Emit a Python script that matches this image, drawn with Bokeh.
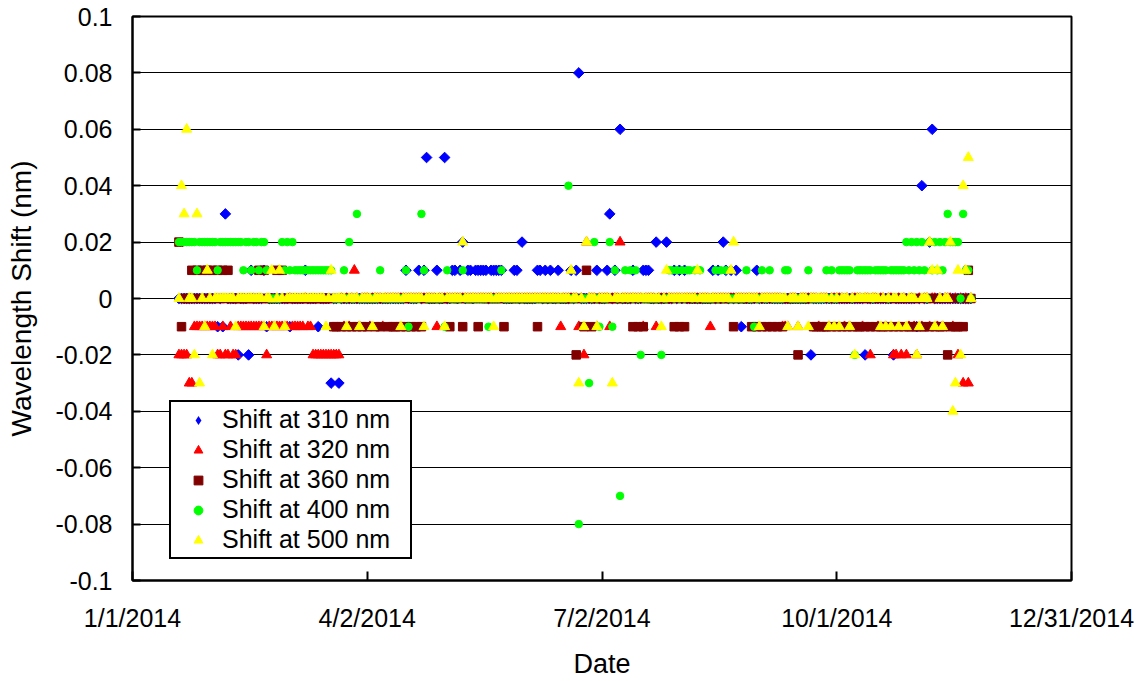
import numpy as np
import pandas as pd
from bokeh.plotting import figure
from bokeh.models import Range1d, FixedTicker, CustomJSTickFormatter, Legend, LegendItem
from bokeh.embed import file_html
from bokeh.resources import INLINE

# ---------------- data (daily readings, first day below) ----------------
first_day = "2014-01-19"

x_tick_dates = ["2014-01-01", "2014-04-02", "2014-07-02", "2014-10-01", "2014-12-31"]
x_tick_labels = ["1/1/2014", "4/2/2014", "7/2/2014", "10/1/2014", "12/31/2014"]
y_tick_values = [-0.1, -0.08, -0.06, -0.04, -0.02, 0, 0.02, 0.04, 0.06, 0.08, 0.1]
y_tick_labels = ["-0.1", "-0.08", "-0.06", "-0.04", "-0.02", "0", "0.02", "0.04", "0.06", "0.08", "0.1"]

series_labels = ["Shift at 310 nm", "Shift at 320 nm", "Shift at 360 nm", "Shift at 400 nm", "Shift at 500 nm"]

shift_310 = [
    0, 0, 0, 0, 0, 0, 0, 0, 0, 0,
    0, 0, 0, 0, 0, -0.01, 0, -0.01, 0.03, 0,
    0, 0, 0, -0.02, 0, 0, 0, -0.02, 0.01, 0,
    0, 0, 0, 0.01, -0.01, 0, 0, 0, 0, 0,
    0, 0, 0, -0.01, 0, 0, 0, 0, 0, 0.01,
    0, 0, 0, 0, -0.01, 0, 0, 0, 0, -0.03,
    0, 0, -0.03, 0, 0, 0, 0, 0, 0, 0,
    0, 0, 0, 0, 0, 0, 0, 0, 0, 0,
    0, 0, 0, 0, 0, 0, 0, 0, 0.01, 0,
    0, 0, 0, 0.01, 0, 0.01, 0.05, 0, 0, 0,
    0.01, 0, 0, 0.05, 0, 0, 0.01, 0.01, 0, 0.01,
    0.02, 0, 0.01, 0.01, 0, 0.01, 0.01, 0.01, 0.01, 0.01,
    0, 0.01, 0.01, 0.01, 0.01, 0.01, 0, 0, 0, 0,
    0.01, 0.01, 0, 0.02, 0, 0, 0, 0, 0, 0.01,
    0.01, 0, 0.01, 0, 0.01, 0, 0, 0.01, 0, 0,
    0, 0, 0.01, 0, 0.01, 0.08, 0, 0, 0, 0,
    0, 0, 0.01, 0, 0, 0, 0.01, 0.03, 0, 0.01,
    0, 0.06, 0, 0, 0, 0, 0.01, 0, 0, 0,
    0.01, 0.01, 0.01, 0, 0, 0.02, 0, 0, 0, 0.02,
    0, 0, 0.01, 0, 0.01, 0, 0.01, 0, 0, 0,
    0, 0, 0, 0, 0, 0, 0, 0.01, 0, 0.01,
    0, 0.02, 0.01, 0, 0.01, 0, 0.01, 0, -0.01, 0,
    0, 0, 0, 0, 0.01, 0, 0, 0, 0, 0,
    0, 0, 0, 0, 0, 0, 0, 0, 0, 0,
    0, 0, 0, 0, 0, -0.02, 0, 0, 0, 0,
    0, 0, 0, 0, 0, 0, 0, 0, 0, 0,
    0, 0, 0, 0, 0, 0, -0.02, 0, 0, 0,
    0, 0, 0, 0, 0, 0, 0, -0.02, 0, 0,
    0, 0, 0, 0, 0, 0, -0.01, 0, 0.04, 0,
    0, 0.02, 0.06, 0, 0, 0, 0, 0, 0, 0,
    0, 0, 0, 0, 0, 0, 0, 0,
]

shift_320 = [
    -0.02, -0.02, -0.02, -0.02, -0.03, -0.03, -0.01, -0.01, -0.01, -0.01,
    -0.01, -0.01, -0.01, -0.01, -0.01, -0.02, -0.02, -0.01, -0.02, -0.02,
    -0.01, -0.02, -0.02, -0.01, -0.01, -0.01, -0.01, -0.01, -0.01, -0.01,
    -0.01, -0.01, -0.01, -0.01, -0.02, -0.01, -0.01, -0.01, -0.01, -0.01,
    -0.01, -0.01, -0.01, 0, -0.01, -0.01, -0.01, -0.01, -0.01, 0,
    -0.01, -0.01, -0.02, -0.02, -0.02, -0.02, -0.02, -0.02, -0.02, -0.02,
    -0.02, -0.02, -0.02, 0, -0.01, 0, -0.01, 0, 0.01, 0,
    -0.01, 0, 0, 0, -0.01, 0, 0, 0, 0, -0.01,
    0, 0, 0, 0, 0, 0, 0, 0, 0, 0,
    0, 0, 0, 0, 0, 0, 0, 0, 0, 0,
    -0.01, 0, 0, 0, 0, 0, 0, 0, 0, 0,
    0, 0, 0, 0, 0, 0, 0, 0, 0, 0,
    0, 0, 0, 0, 0, 0, 0, 0, 0, 0,
    0, 0, 0, 0, 0, 0, 0, 0, 0, 0,
    0, 0, 0, 0, 0, 0, 0, 0, -0.01, 0,
    0, 0, 0, 0, 0, -0.01, 0, -0.02, 0.02, 0,
    0, 0, -0.01, 0, 0, 0, 0, -0.01, 0, 0,
    0, 0.02, 0, 0, 0, 0, 0, 0, 0, 0,
    -0.01, 0, 0, 0, 0, -0.01, 0, 0, 0, 0,
    0, 0, 0, 0, 0, 0, 0, 0, 0, 0,
    0, 0, 0, 0, 0, 0, -0.01, 0, 0, 0,
    0, 0, 0, 0, 0, 0, 0, 0, 0, 0,
    0, 0, 0, 0, 0, 0, 0, 0, 0, 0,
    0, 0, 0, 0, -0.01, -0.01, -0.01, 0, 0, 0,
    -0.01, 0, 0, 0, 0, 0, 0, 0, -0.01, 0,
    0, 0, -0.01, 0, 0, 0, 0, 0, -0.01, 0,
    -0.01, 0, 0, 0, 0, -0.01, 0, 0, -0.02, 0,
    0, -0.01, 0, 0, -0.01, 0, 0, -0.02, -0.02, 0,
    -0.02, 0, -0.02, -0.01, 0, -0.01, -0.02, 0, -0.01, 0,
    0, -0.01, 0, 0, -0.01, 0, -0.01, 0, 0, 0,
    -0.01, 0, -0.02, 0, -0.03, 0, -0.03, 0,
]

shift_360 = [
    0.02, -0.01, 0, 0, 0, 0.01, 0, 0.01, 0, 0.01,
    0, 0.01, 0, 0.01, 0, 0.01, 0, 0.01, 0, 0.01,
    0, 0, 0, 0, 0, 0, 0, 0, 0, 0,
    0, 0.01, 0, 0.01, 0, 0, 0, 0, 0.01, 0,
    0.01, 0, 0, 0, 0, 0, 0, 0, 0, 0,
    0, 0, 0, 0, 0, 0, 0, 0, 0, 0,
    -0.01, -0.01, 0, -0.01, 0, -0.01, 0, -0.01, 0, -0.01,
    0, -0.01, 0, -0.01, 0, 0, -0.01, 0, -0.01, 0,
    0, -0.01, 0, -0.01, -0.01, 0, -0.01, 0, -0.01, 0,
    -0.01, 0, -0.01, 0, -0.01, 0, 0, 0, 0, 0,
    0, 0, 0, 0, 0, -0.01, 0, 0, 0, 0,
    -0.01, 0, 0, 0, 0, 0, -0.01, 0, 0, 0,
    0, 0, 0, 0, 0, 0, -0.01, 0, 0, 0,
    0, 0, 0, 0, 0, 0, 0, 0, 0, -0.01,
    0, 0, 0, 0, 0, 0, 0, 0, 0, 0,
    0, 0, 0, 0, -0.02, 0, 0, -0.01, 0.01, 0,
    -0.01, 0, 0, 0, 0, 0, 0, 0, 0, 0,
    0, 0, 0, 0, 0, 0, -0.01, 0, -0.01, 0,
    -0.01, 0, 0, 0, 0, 0, 0, 0, 0, 0,
    0, 0, -0.01, 0, -0.01, 0, -0.01, 0, 0, 0,
    0, 0, 0, 0, 0, 0, 0, 0, 0, 0,
    0, 0, 0, 0, 0, -0.01, 0, 0, 0, 0,
    0, 0, -0.01, 0, -0.01, 0, -0.01, 0, -0.01, 0,
    -0.01, 0, -0.01, 0, -0.01, 0, 0, 0, 0, 0,
    -0.02, 0, 0, 0, 0, 0, -0.01, -0.01, 0, -0.01,
    -0.01, -0.01, 0, -0.01, 0, -0.01, 0, -0.01, 0, -0.01,
    0, -0.01, 0, -0.01, -0.01, 0, -0.01, 0, -0.01, 0,
    -0.01, 0, -0.01, -0.01, 0, -0.01, 0, -0.01, 0, -0.01,
    0, -0.01, 0, -0.01, -0.01, 0, -0.01, 0, -0.01, -0.01,
    0, -0.01, 0, -0.01, 0, -0.01, -0.01, 0, -0.02, -0.01,
    0, -0.01, -0.01, 0, -0.01, 0, 0.01, 0,
]

shift_400 = [
    0.02, 0.02, 0.02, 0.02, 0.02, 0.02, 0.02, 0.01, 0.02, 0.02,
    0.02, 0.02, 0.02, 0.02, 0.02, 0.01, 0.02, 0.02, 0.02, 0.02,
    0.02, 0.02, 0.02, 0.02, 0.02, 0.01, 0.02, 0.02, 0.01, 0.02,
    0.02, 0.01, 0.02, 0.02, 0.01, 0, 0, 0, 0, 0,
    0.02, 0.01, 0.02, 0.01, 0.02, 0.01, 0.01, 0.01, 0.01, 0.01,
    0.01, 0.01, 0.01, 0.01, 0.01, 0.01, 0.01, 0.01, 0.01, 0.01,
    0, 0, 0, 0, 0.01, 0, 0.02, 0, 0, 0.03,
    0, 0, 0, 0, 0, 0, 0, 0, 0.01, 0,
    0, 0, 0, 0, 0, 0, 0, 0, 0.01, -0.01,
    0, 0, 0, 0, 0.03, 0.01, 0, 0, 0, 0,
    0, 0, 0, -0.01, 0.01, 0, 0, 0, 0, 0,
    0.01, 0, 0, 0, 0, 0, 0, 0, 0, 0,
    -0.01, 0, 0, 0, 0, 0.01, 0, 0, 0, 0,
    0, 0, 0, 0, 0, 0, 0, 0, 0, 0,
    0, 0, 0, 0, 0, 0, 0, 0, 0, 0,
    0, 0.04, 0, 0, 0, -0.08, 0, 0, 0, -0.03,
    0, 0.02, 0, -0.01, 0, 0, 0, 0.02, -0.01, 0.01,
    0, -0.07, 0, 0.01, 0, 0.01, 0, 0.01, 0, -0.02,
    0, 0, 0, 0, 0, 0, 0, -0.02, 0, 0,
    0.01, 0.01, 0, 0.01, 0, 0.01, 0, 0.01, 0.01, 0,
    0.01, 0, 0.01, 0, 0, 0, 0, 0, 0.01, 0,
    0.01, 0, 0.01, 0, 0, 0, 0, 0, 0, 0,
    0.01, 0, 0, -0.01, 0, 0, 0.01, 0, 0, 0.01,
    0, 0, 0, 0, 0, 0.01, 0.01, 0, 0, 0,
    0, 0, 0, 0, 0.01, 0, 0, 0, 0, 0,
    0, 0.01, 0, 0.01, 0, 0, 0.01, 0.01, 0.01, 0.01,
    0.01, 0, -0.02, 0.01, 0.01, 0.01, 0.01, 0.01, 0.01, 0,
    0.01, 0.01, 0.01, 0.01, 0.01, 0, 0.01, 0.01, 0.01, 0.01,
    0.01, 0.01, 0.02, 0.01, 0.02, 0.01, 0.02, 0.01, 0.02, 0.01,
    0, 0.02, 0.01, 0.02, 0.01, 0.02, 0.01, 0.02, 0.03, 0.02,
    0.02, 0.02, 0.02, 0, 0.03, 0.01, 0.01, 0,
]

shift_500 = [
    0, 0.04, 0.03, 0.06, 0, 0, -0.02, 0.03, -0.03, 0,
    -0.01, 0.01, 0, -0.02, 0, 0, 0, 0, 0, 0,
    0, 0, -0.01, 0, 0, 0, 0, 0, 0, 0,
    0, 0, 0, -0.01, 0, 0, 0.01, -0.01, 0, 0.01,
    0, -0.01, 0, 0, 0, 0, 0, 0, 0, 0,
    0, 0, 0, 0, 0, 0, 0, -0.01, 0, 0.01,
    0, 0, 0, 0, 0, -0.01, 0, 0, 0, 0,
    -0.01, 0, 0, 0, 0, -0.01, 0, 0, 0, 0,
    0, 0, 0, 0, 0, 0, -0.01, 0, 0, 0,
    0, 0, 0, 0, 0, -0.01, 0, 0, 0, 0,
    0, 0, 0, -0.01, 0, 0, 0, 0, 0, 0,
    0.02, 0, 0, 0, 0, 0, 0, 0, 0, 0,
    0, 0, -0.01, 0, 0, 0, 0, 0, 0, 0,
    0, 0, 0, 0, 0, 0, 0, 0, 0, 0,
    0, 0, 0, 0, 0, 0, 0, 0, 0, 0,
    0, 0, 0.01, 0, 0, -0.03, 0, -0.01, 0.02, 0,
    0, 0, -0.01, 0, 0, 0, 0, 0, -0.03, 0,
    0, 0, 0, 0, 0, 0, 0, 0, 0, 0,
    0, 0, 0, 0, 0, 0, 0, -0.01, 0, 0.01,
    0, 0, 0, 0, 0, 0, 0, 0, 0, 0,
    0, 0.01, 0, 0, 0, 0, 0, 0, 0, 0,
    0, 0, 0, 0, 0.01, 0.02, 0, 0, 0, 0,
    0, 0, 0, 0, 0, -0.01, 0, 0, 0, 0,
    0, 0, 0, 0, 0, 0, -0.01, 0, 0, 0,
    -0.01, 0, 0, 0, -0.01, 0, 0, 0, 0, 0,
    0, 0, -0.01, 0, -0.01, 0, -0.01, 0, 0, 0,
    -0.01, 0, -0.02, 0, 0, 0, 0, 0, 0, 0,
    0, 0, -0.01, 0, -0.01, 0, -0.01, 0, 0, -0.01,
    0, 0, -0.01, 0, 0, 0, -0.02, -0.01, 0, 0,
    0, 0.02, 0.01, -0.01, 0.01, 0, -0.01, 0, 0, 0.02,
    -0.04, -0.03, 0.01, -0.02, 0.04, 0.01, 0.05, 0,
]

# ---------------- helpers ----------------
def to_ms(dates):
    return (pd.DatetimeIndex(dates).asi8 // 10**6).astype(float)

def day_axis(values):
    return to_ms(pd.date_range(first_day, periods=len(values), freq="D"))

x_ticks = list(to_ms(x_tick_dates))

FONT = "Liberation Sans"

p = figure(width=1138, height=681, output_backend="svg", toolbar_location=None,
           x_range=Range1d(x_ticks[0], x_ticks[-1]), y_range=Range1d(-0.1, 0.1),
           min_border_left=132, min_border_right=67, min_border_top=16, min_border_bottom=101)

p.background_fill_color = "white"
p.border_fill_color = "white"
p.outline_line_color = "black"
p.outline_line_width = 2
p.outline_line_alpha = 1

styles = [
    dict(marker="square", angle=np.pi / 4, size=7.5, color="#0000FF"),
    dict(marker="triangle", size=10, color="#FF0000"),
    dict(marker="square", size=8.5, color="#800000"),
    dict(marker="circle", size=7.5, color="#00FF00"),
    dict(marker="triangle", size=10, color="#FFFF00"),
]
all_series = [shift_310, shift_320, shift_360, shift_400, shift_500]

renderers = []
for vals, st in zip(all_series, styles):
    r = p.scatter(x=day_axis(vals), y=vals, **st)
    renderers.append(r)

# legend swatch for the 310 nm series: a diamond (legend glyphs ignore the angle);
# drawn at size 0 in the plot so only the legend shows it
leg_diamond = p.scatter(x=day_axis(shift_310), y=shift_310, marker="diamond", size=0,
                        fill_color="#0000FF", line_color="#0000FF", line_alpha=0)
legend_renderers = [leg_diamond] + renderers[1:]

legend = Legend(items=[LegendItem(label=lab, renderers=[r]) for lab, r in zip(series_labels, legend_renderers)],
                location=(37, 21))
legend.border_line_color = "black"
legend.border_line_width = 2
legend.border_line_alpha = 1
legend.background_fill_color = "white"
legend.background_fill_alpha = 1
legend.padding = 3
legend.margin = 0
legend.spacing = 1
legend.glyph_width = 48
legend.glyph_height = 22
legend.label_standoff = 0
legend.label_width = 185
legend.label_height = 29
legend.label_text_font = FONT
legend.label_text_font_size = "25px"
legend.label_text_color = "black"
p.add_layout(legend)

# axes
fmt_code = """
for (let i = 0; i < vals.length; i++) {
  if (Math.abs(vals[i] - tick) <= 1e-6 * Math.max(1, Math.abs(tick))) { return labs[i]; }
}
return "";
"""
xa = p.xaxis[0]
xa.ticker = FixedTicker(ticks=x_ticks)
xa.formatter = CustomJSTickFormatter(args=dict(vals=x_ticks, labs=x_tick_labels), code=fmt_code)
xa.axis_label = "Date"

ya = p.yaxis[0]
ya.ticker = FixedTicker(ticks=y_tick_values)
ya.formatter = CustomJSTickFormatter(args=dict(vals=y_tick_values, labs=y_tick_labels), code=fmt_code)
ya.axis_label = "Wavelength Shift (nm)"

for ax in (xa, ya):
    ax.axis_line_color = "black"
    ax.axis_line_width = 2
    ax.major_tick_line_color = "black"
    ax.major_tick_line_width = 2
    ax.major_tick_out = 0
    ax.minor_tick_in = 0
    ax.minor_tick_out = 0
    ax.major_label_text_font = FONT
    ax.major_label_text_font_size = "25px"
    ax.major_label_text_color = "black"
    ax.axis_label_text_font = FONT
    ax.axis_label_text_font_size = "28px"
    ax.axis_label_text_font_style = "normal"
    ax.axis_label_text_color = "black"

xa.axis_label_text_font_size = "27px"
xa.major_tick_in = 9
xa.major_label_standoff = 23
xa.axis_label_standoff = 14
ya.major_tick_in = 8
ya.major_label_standoff = 20
ya.axis_label_standoff = 16

p.xgrid.visible = False
p.ygrid.grid_line_color = "black"
p.ygrid.grid_line_width = 1
p.ygrid.grid_line_alpha = 1

open("out.html", "w").write(file_html(p, INLINE))
